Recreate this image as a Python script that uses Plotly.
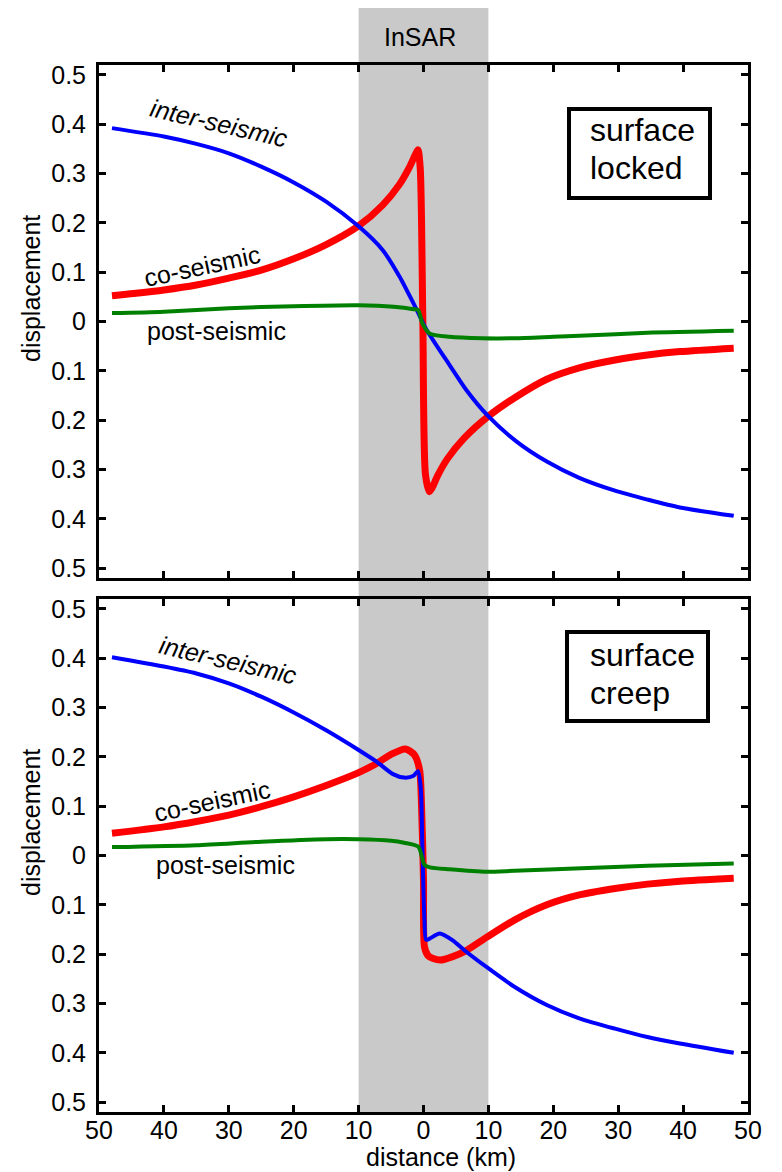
import plotly.graph_objects as go

# ---------------- data ----------------
x_tick_vals = [-50, -40, -30, -20, -10, 0, 10, 20, 30, 40, 50]
x_tick_text = ["50", "40", "30", "20", "10", "0", "10", "20", "30", "40", "50"]
y_tick_vals = [-0.5, -0.4, -0.3, -0.2, -0.1, 0.0, 0.1, 0.2, 0.3, 0.4, 0.5]
y_tick_text = ["0.5", "0.4", "0.3", "0.2", "0.1", "0", "0.1", "0.2", "0.3", "0.4", "0.5"]
insar_band = [-10, 10]

# surface locked (top panel)
locked_inter_x = [-48, -40, -35, -30, -25, -20, -15, -10, -6.3, -3.7, -1.1, 0.4, 4, 6.6, 9.9,
                  14.3, 19, 24, 29.5, 34.5, 39.5, 47.8]
locked_inter_y = [0.392, 0.375, 0.360, 0.341, 0.314, 0.282, 0.243, 0.193, 0.145, 0.091, 0.025,
                  -0.015, -0.088, -0.139, -0.191, -0.243, -0.284, -0.317, -0.343, -0.361, -0.377, -0.394]

locked_co_x = [-48, -40, -35, -30, -25, -20, -15, -10, -6.3, -3.7, -2.2, -1.2, -0.85, -0.5, -0.1,
               0.3, 0.9, 1.3, 2.2, 3.7, 6.3, 9.9, 14, 19, 24, 29.5, 34.5, 39.5, 47.8]
locked_co_y = [0.052, 0.064, 0.074, 0.088, 0.104, 0.127, 0.156, 0.194, 0.236, 0.278, 0.312, 0.340,
               0.348, 0.310, 0.0, -0.310, -0.345, -0.338, -0.312, -0.278, -0.236, -0.193, -0.155,
               -0.117, -0.094, -0.078, -0.068, -0.061, -0.054]

locked_post_x = [-48, -40, -30, -20, -10, -4.6, -1.5, -0.8, -0.2, 0.9, 4, 9, 14, 20, 24, 34.5, 47.8]
locked_post_y = [0.017, 0.020, 0.027, 0.031, 0.033, 0.030, 0.025, 0.023, -0.003, -0.024, -0.031,
                 -0.034, -0.034, -0.031, -0.029, -0.023, -0.019]

# surface creep (bottom panel)
creep_inter_x = [-48, -40, -35, -30, -25, -20, -15, -10, -7.2, -4.7, -3.0, -1.6, -0.85, -0.4, -0.2,
                 0.15, 0.4, 1.0, 2.5, 4.5, 6.3, 9.7, 14, 19, 24, 29.5, 34.5, 39.5, 47.8]
creep_inter_y = [0.402, 0.383, 0.369, 0.349, 0.322, 0.290, 0.254, 0.214, 0.190, 0.165, 0.158, 0.161,
                 0.171, 0.133, 0.031, -0.131, -0.171, -0.168, -0.158, -0.172, -0.192, -0.226, -0.266,
                 -0.303, -0.330, -0.351, -0.368, -0.381, -0.400]

creep_co_x = [-48, -40, -35, -30, -25, -20, -15, -10, -7.3, -5, -2.8, -1.4, -0.6, -0.3, 0.0, 0.15,
              0.7, 1.5, 2.6, 4.5, 6.3, 9.7, 14, 19, 24, 29.5, 34.5, 39.5, 47.8]
creep_co_y = [0.045, 0.058, 0.069, 0.082, 0.099, 0.119, 0.142, 0.168, 0.186, 0.205, 0.216, 0.204,
              0.173, 0.099, -0.050, -0.185, -0.203, -0.209, -0.212, -0.205, -0.195, -0.166, -0.131,
              -0.100, -0.080, -0.067, -0.058, -0.052, -0.046]

creep_post_x = [-48, -35, -25, -15, -10, -5, -3, -0.8, 0.15, 1, 4, 9.7, 14, 24.3, 34.5, 47.8]
creep_post_y = [0.017, 0.021, 0.028, 0.033, 0.033, 0.030, 0.026, 0.018, -0.019, -0.024, -0.028,
                -0.033, -0.031, -0.026, -0.021, -0.016]

# ---------------- layout helpers ----------------
# the page body has an 8 px margin, so the figure is 8 px smaller than the window
OFF = 8
W, H = 782 - OFF, 1172 - OFF
L, R, T, B = 99 - OFF, 34, 65 - OFF, 60
PW, PH = W - L - R, H - T - B


def px(x):
    """page pixel x -> paper fraction"""
    return (x - OFF - L) / PW


def py(y):
    """page pixel y -> paper fraction"""
    return (H - B - (y - OFF)) / PH


FONT = "Liberation Sans, Arial, Helvetica, sans-serif"
RED, BLUE, GREEN = "#ff0000", "#0000ff", "#008000"

fig = go.Figure()

panels = [
    ("x", "y", locked_inter_x, locked_inter_y, locked_co_x, locked_co_y, locked_post_x, locked_post_y),
    ("x2", "y2", creep_inter_x, creep_inter_y, creep_co_x, creep_co_y, creep_post_x, creep_post_y),
]
for xa, ya, ix, iy, cx, cy, pxs, pys in panels:
    fig.add_trace(go.Scatter(x=cx, y=cy, mode="lines",
                             line=dict(color=RED, width=7, shape="spline", smoothing=0.7),
                             xaxis=xa, yaxis=ya, showlegend=False))
    fig.add_trace(go.Scatter(x=ix, y=iy, mode="lines",
                             line=dict(color=BLUE, width=4, shape="spline", smoothing=0.7),
                             xaxis=xa, yaxis=ya, showlegend=False))
    fig.add_trace(go.Scatter(x=pxs, y=pys, mode="lines",
                             line=dict(color=GREEN, width=4, shape="spline", smoothing=0.7),
                             xaxis=xa, yaxis=ya, showlegend=False))

axis_common = dict(showline=True, linecolor="black", linewidth=3, mirror="allticks",
                   ticks="inside", ticklen=7, tickwidth=2.5, tickcolor="black",
                   showgrid=False, zeroline=False,
                   tickfont=dict(family=FONT, size=25, color="black"))

top_dom = [py(578), 1.0]
bot_dom = [0.0, py(599)]

fig.update_layout(
    width=W, height=H,
    margin=dict(l=L, r=R, t=T, b=B),
    paper_bgcolor="white", plot_bgcolor="rgba(0,0,0,0)",
    font=dict(family=FONT, size=25, color="black"),
    xaxis=dict(range=[-50, 50], anchor="y", domain=[0, 1], tickvals=x_tick_vals,
               ticktext=x_tick_text, showticklabels=False, **axis_common),
    yaxis=dict(range=[-0.52, 0.52], anchor="x", domain=top_dom, tickvals=y_tick_vals,
               ticktext=y_tick_text, ticklabelstandoff=5, **axis_common),
    xaxis2=dict(range=[-50, 50], anchor="y2", domain=[0, 1], tickvals=x_tick_vals,
                ticktext=x_tick_text, ticklabelstandoff=-6, **axis_common),
    yaxis2=dict(range=[-0.52, 0.52], anchor="x2", domain=bot_dom, tickvals=y_tick_vals,
                ticktext=y_tick_text, ticklabelstandoff=5, **axis_common),
)

shapes = [
    dict(type="rect", xref="x", yref="paper", x0=insar_band[0], x1=insar_band[1],
         y0=0, y1=py(8), fillcolor="#c9c9c9", line=dict(width=0), layer="below"),
    dict(type="rect", xref="paper", yref="paper", x0=px(569), x1=px(710), y0=py(198), y1=py(109),
         line=dict(color="black", width=4), fillcolor="white", layer="above"),
    dict(type="rect", xref="paper", yref="paper", x0=px(567), x1=px(708), y0=py(721), y1=py(632),
         line=dict(color="black", width=4), fillcolor="white", layer="above"),
]
fig.update_layout(shapes=shapes)


def ann(text, x, y, size=25, angle=0, xanchor="center"):
    return dict(text=text, x=px(x), y=py(y), xref="paper", yref="paper", showarrow=False,
                xanchor=xanchor, yanchor="middle", textangle=angle,
                font=dict(family=FONT, size=size, color="black"))


annotations = [
    ann("InSAR", 420, 37),
    ann("distance (km)", 441, 1157),
    ann("displacement", 31, 289, angle=-90),
    ann("displacement", 31, 823, angle=-90),
    # top panel
    ann("<i>inter-seismic</i>", 219, 123, angle=13),
    ann("co-seismic", 202, 266, angle=-12),
    ann("post-seismic", 216, 331),
    ann("surface", 588, 130, size=32, xanchor="left"),
    ann("locked", 588, 168, size=32, xanchor="left"),
    # bottom panel
    ann("<i>inter-seismic</i>", 228, 660, angle=13),
    ann("co-seismic", 212, 801, angle=-12),
    ann("post-seismic", 225, 865),
    ann("surface", 588, 655, size=32, xanchor="left"),
    ann("creep", 588, 693, size=32, xanchor="left"),
]
fig.update_layout(annotations=annotations)

fig.write_html("out.html")
